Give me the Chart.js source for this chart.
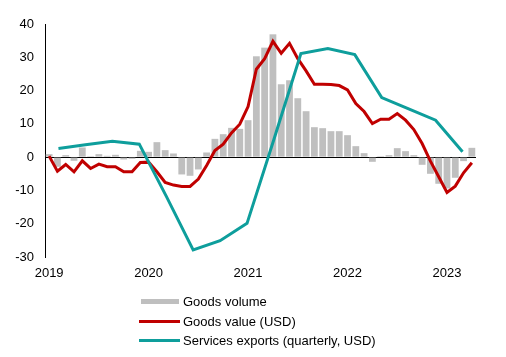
<!DOCTYPE html>
<html><head><meta charset="utf-8">
<script src="https://cdn.jsdelivr.net/npm/chart.js@4/dist/chart.umd.min.js"></script>
<style>
html,body{margin:0;padding:0;background:#fff;}
#wrap{position:relative;width:506px;height:357px;}
#legend{position:absolute;left:139px;top:292px;font:13px Arial,"Liberation Sans",sans-serif;color:#000;}
.item{display:flex;align-items:center;height:19.5px;white-space:nowrap;}
.swbox{width:41px;margin-right:3px;display:flex;justify-content:center;}
</style></head><body>
<div id="wrap"><canvas id="c" width="506" height="357"></canvas><div id="legend"></div></div>
<script>
const years = ['2019','2020','2021','2022','2023'];
const monthLabels = [
 '2019-01','2019-02','2019-03','2019-04','2019-05','2019-06','2019-07','2019-08','2019-09','2019-10','2019-11','2019-12',
 '2020-01','2020-02','2020-03','2020-04','2020-05','2020-06','2020-07','2020-08','2020-09','2020-10','2020-11','2020-12',
 '2021-01','2021-02','2021-03','2021-04','2021-05','2021-06','2021-07','2021-08','2021-09','2021-10','2021-11','2021-12',
 '2022-01','2022-02','2022-03','2022-04','2022-05','2022-06','2022-07','2022-08','2022-09','2022-10','2022-11','2022-12',
 '2023-01','2023-02','2023-03','2023-04'];
const quarterLabels = ['2019Q1','2019Q2','2019Q3','2019Q4','2020Q1','2020Q2','2020Q3','2020Q4',
 '2021Q1','2021Q2','2021Q3','2021Q4','2022Q1','2022Q2','2022Q3','2022Q4'];
const goodsVolume = [0.9,-2.9,0.6,-1.1,2.9,0.3,0.9,0.4,0.7,-0.7,-0.5,1.9,
 1.6,4.5,2.1,1.1,-5.2,-5.6,-3.7,1.4,5.5,6.9,8.8,8.5,
 11.1,30.3,32.9,36.9,21.9,23.1,17.7,13.8,9.0,8.7,7.8,7.8,
 6.6,3.3,1.2,-1.4,0.3,0.6,2.7,1.8,0.6,-2.3,-5.0,-8.0,
 -9.4,-6.2,-1.2,2.8];
const goodsValue = [0.3,-4.2,-2.2,-4.4,-1.1,-3.4,-2.1,-2.9,-2.9,-4.4,-4.4,-1.6,
 -1.5,-4.4,-7.6,-8.4,-8.8,-8.8,-6.6,-2.5,2.0,3.9,7.3,9.9,
 15.2,26.4,29.6,34.8,31.2,34.2,29.6,25.9,21.9,21.9,21.8,21.5,
 20.2,16.1,13.7,10.1,11.4,11.4,13.1,11.1,8.3,4.1,-1.2,-5.9,
 -10.6,-8.7,-4.7,-1.7];
const servicesExports = [2.6,3.7,4.8,3.9,-11.7,-27.9,-25.1,-19.9,5.4,31.1,32.6,30.8,17.9,14.5,11.1,1.6];
const seriesNames = ['Goods volume','Goods value (USD)','Services exports (quarterly, USD)'];
const yTicks = [-30,-20,-10,0,10,20,30,40];

const colGrey = '#BFBFBF', colRed = '#C00000', colTeal = '#0E9E9C';
const FONT = {family:'Arial, "Liberation Sans", sans-serif', size:13};

const chart = new Chart(document.getElementById('c'), {
  data: {
    labels: monthLabels,
    datasets: [
      {type:'line', label:seriesNames[2], data:servicesExports, xAxisID:'x2', yAxisID:'y',
       borderColor:colTeal, backgroundColor:colTeal, borderWidth:3, pointRadius:0, tension:0, order:0},
      {type:'line', label:seriesNames[1], data:goodsValue, xAxisID:'x', yAxisID:'y',
       borderColor:colRed, backgroundColor:colRed, borderWidth:3, pointRadius:0, tension:0, order:1},
      {type:'bar', label:seriesNames[0], data:goodsVolume, xAxisID:'x', yAxisID:'y', grouped:false,
       backgroundColor:colGrey, borderWidth:0, barPercentage:0.82, categoryPercentage:1.0, order:2}
    ]
  },
  options: {
    responsive:false, animation:false, devicePixelRatio:1,
    layout:{padding:{top:24,right:30,left:0,bottom:0}},
    plugins:{legend:{display:false}, tooltip:{enabled:false}},
    scales:{
      x:{type:'category', offset:true, position:'bottom',
         grid:{display:false, drawTicks:false}, border:{display:false},
         ticks:{autoSkip:false, maxRotation:0, minRotation:0, padding:9, color:'#000', font:FONT,
           callback:(v,i)=>{const m=monthLabels[i]; return m.endsWith('-01') ? years[years.indexOf(m.slice(0,4))] : '';}},
         afterFit:s=>{s.height=100;}},
      x2:{type:'category', labels:quarterLabels, offset:true, display:false, position:'bottom'},
      y:{type:'linear', min:-30, max:40, position:'left',
         afterBuildTicks:s=>{s.ticks = yTicks.map(v=>({value:v}));},
         ticks:{padding:11, color:'#000', font:FONT},
         grid:{drawTicks:false, lineWidth:1, color:c=>c.tick && c.tick.value===0 ? '#000' : 'rgba(0,0,0,0)'},
         border:{display:true, color:'#000', width:1},
         afterFit:s=>{s.width=45;}}
    }
  }
});

const legend = document.getElementById('legend');
const swatches = [
  {color:colGrey, h:5, w:38},
  {color:colRed, h:3, w:41},
  {color:colTeal, h:3, w:41}
];
seriesNames.forEach((name,i)=>{
  const row = document.createElement('div'); row.className='item';
  const box = document.createElement('div'); box.className='swbox';
  const sw = document.createElement('div');
  sw.style.width = swatches[i].w+'px'; sw.style.height = swatches[i].h+'px'; sw.style.background = swatches[i].color;
  box.appendChild(sw);
  const t = document.createElement('span'); t.textContent = name;
  row.appendChild(box); row.appendChild(t); legend.appendChild(row);
});
</script>
</body></html>
